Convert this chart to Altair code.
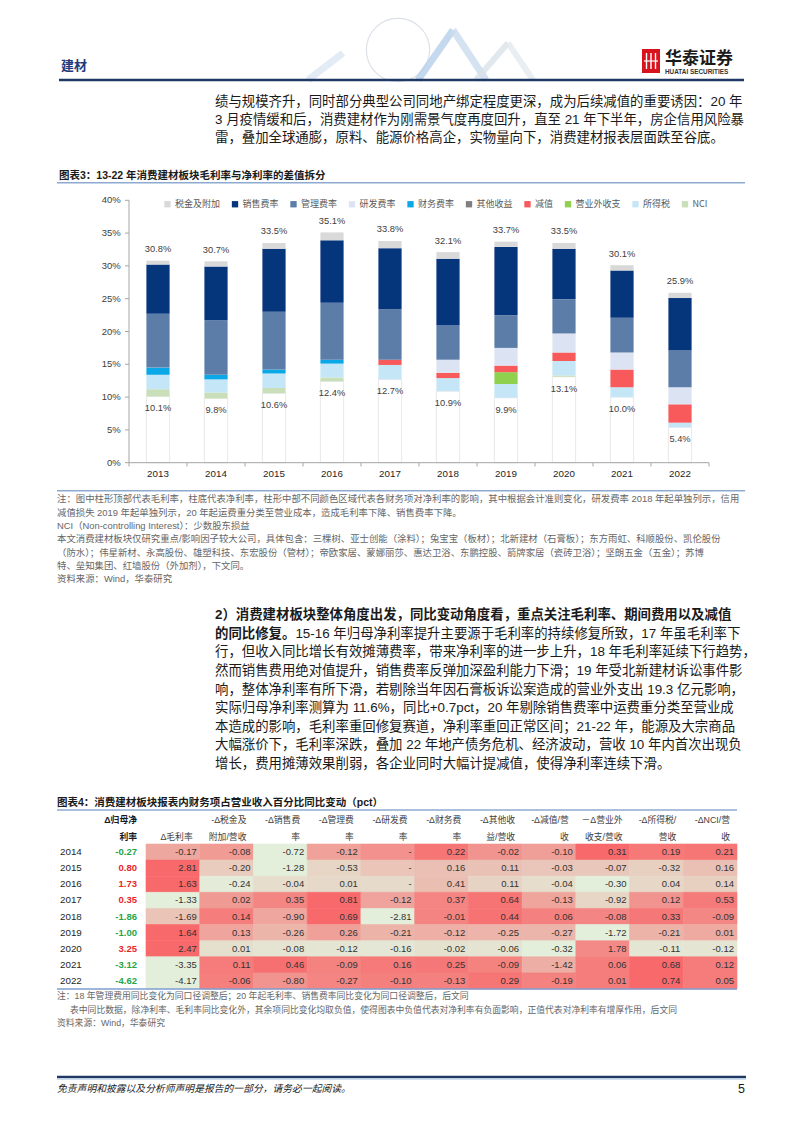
import altair as alt
import pandas as pd

# ---------------- data: chart 3 (stacked bars) ----------------
years = ['2013', '2014', '2015', '2016', '2017', '2018', '2019', '2020', '2021', '2022']
gross = [30.8, 30.7, 33.5, 35.1, 33.8, 32.1, 33.7, 33.5, 30.1, 25.9]
net = [10.1, 9.8, 10.6, 12.4, 12.7, 10.9, 9.9, 13.1, 10.0, 5.4]

seg_names = ['税金及附加', '销售费率', '管理费率', '研发费率', '财务费率',
             '其他收益', '减值', '营业外收支', '所得税', 'NCI']
seg_colors = ['#D9D9D9', '#05357A', '#5B7DA8', '#DCE3F2', '#0BA8E8',
              '#808080', '#F8595B', '#8FD14F', '#C4E6F7', '#C9DFB9']

tax = [0.6, 0.8, 0.9, 1.2, 1.1, 1.0, 0.8, 0.9, 0.8, 0.8]
sales = [7.5, 8.2, 9.6, 9.5, 9.3, 10.1, 10.4, 7.7, 7.2, 8.0]
admin = [8.2, 8.3, 8.8, 8.7, 7.7, 5.3, 5.0, 5.2, 5.3, 5.6]
rd = [0, 0, 0, 0, 0, 2.0, 2.7, 2.9, 2.6, 2.6]
fin = [1.1, 0.7, 0.6, 0.6, 0, 0, 0, 0, 0, 0]
other = [0, 0, 0, 0, 0, 0, 0, 0, 0, 0]
impair = [0, 0, 0, 0, 0.8, 0.8, 1.0, 1.3, 2.7, 2.8]
nonop = [0, 0, 0, 0, 0, 0, 1.8, 0, 0, 0]
itax = [2.2, 2.0, 2.2, 2.1, 2.2, 2.0, 2.1, 2.2, 1.5, 0.7]
nci = [1.1, 0.9, 0.8, 0.6, 0, 0, 0, 0.2, 0, 0]

y_ticks = [0, 5, 10, 15, 20, 25, 30, 35, 40]

# ---------------- data: chart 4 (table) ----------------
t_years = ['2014', '2015', '2016', '2017', '2018', '2019', '2020', '2021', '2022']
d_net = [-0.27, 0.80, 1.73, 0.35, -1.86, -1.00, 3.25, -3.12, -4.62]
d_gross = [-0.17, 2.81, 1.63, -1.33, -1.69, 1.64, 2.47, -3.35, -4.17]
d_tax = [-0.08, -0.20, -0.24, 0.02, 0.14, 0.13, 0.01, 0.11, -0.06]
d_sales = [-0.72, -1.28, -0.04, 0.35, -0.90, -0.26, -0.08, 0.46, -0.80]
d_admin = [-0.12, -0.53, 0.01, 0.81, 0.69, 0.26, -0.12, -0.09, -0.27]
d_rd = [0, 0, 0, -0.12, -2.81, -0.21, -0.16, 0.16, -0.10]
d_fin = [0.22, 0.16, 0.41, 0.37, -0.01, -0.12, -0.02, 0.25, -0.13]
d_other = [-0.02, 0.11, 0.11, 0.64, 0.44, -0.25, -0.06, -0.09, 0.29]
d_impair = [-0.10, -0.03, -0.04, -0.13, 0.06, -0.27, -0.32, -1.42, -0.19]
d_nonop = [0.31, -0.07, -0.30, -0.92, -0.08, -1.72, 1.78, 0.06, 0.01]
d_itax = [0.19, -0.32, 0.04, 0.12, 0.33, -0.21, -0.11, 0.68, 0.74]
d_nci = [0.21, 0.16, 0.14, 0.53, -0.09, 0.01, -0.12, 0.12, 0.05]

t_cols = ['毛利率', '税金', '销售', '管理', '研发', '财务', '其他', '减值', '营业外', '所得税', 'NCI']
head1 = ['', '-Δ税金及', '-Δ销售费', '-Δ管理费', '-Δ研发费', '-Δ财务费',
         '-Δ其他收', '-Δ减值/营', '－Δ营业外', '-Δ所得税/', '-ΔNCI/营']
head2 = ['Δ毛利率', '附加/营收', '率', '率', '率', '率', '益/营收', '收', '收支/营收', '营收', '收']

# ---------------- texts ----------------
para1 = [
    '绩与规模齐升，同时部分典型公司同地产绑定程度更深，成为后续减值的重要诱因：20 年',
    '3 月疫情缓和后，消费建材作为刚需景气度再度回升，直至 21 年下半年，房企信用风险暴',
    '雷，叠加全球通膨，原料、能源价格高企，实物量向下，消费建材报表层面跌至谷底。',
]
title3 = '图表3：13-22 年消费建材板块毛利率与净利率的差值拆分'
notes3 = [
    '注：图中柱形顶部代表毛利率，柱底代表净利率，柱形中部不同颜色区域代表各财务项对净利率的影响，其中根据会计准则变化，研发费率 2018 年起单独列示，信用',
    '减值损失 2019 年起单独列示，20 年起运费重分类至营业成本，造成毛利率下降、销售费率下降。',
    'NCI（Non-controlling Interest）：少数股东损益',
    '本文消费建材板块仅研究重点/影响因子较大公司，具体包含：三棵树、亚士创能（涂料）；兔宝宝（板材）；北新建材（石膏板）；东方雨虹、科顺股份、凯伦股份',
    '（防水）；伟星新材、永高股份、雄塑科技、东宏股份（管材）；帝欧家居、蒙娜丽莎、惠达卫浴、东鹏控股、箭牌家居（瓷砖卫浴）；坚朗五金（五金）；苏博',
    '特、垒知集团、红墙股份（外加剂），下文同。',
    '资料来源：Wind，华泰研究',
]
para2_bold = ['2）消费建材板块整体角度出发，同比变动角度看，重点关注毛利率、期间费用以及减值', '的同比修复。']
para2_rest = '15-16 年归母净利率提升主要源于毛利率的持续修复所致，17 年虽毛利率下'
para2 = [
    '行，但收入同比增长有效摊薄费率，带来净利率的进一步上升，18 年毛利率延续下行趋势，',
    '然而销售费用绝对值提升，销售费率反弹加深盈利能力下滑；19 年受北新建材诉讼事件影',
    '响，整体净利率有所下滑，若剔除当年因石膏板诉讼案造成的营业外支出 19.3 亿元影响，',
    '实际归母净利率测算为 11.6%，同比+0.7pct，20 年剔除销售费率中运费重分类至营业成',
    '本造成的影响，毛利率重回修复赛道，净利率重回正常区间；21-22 年，能源及大宗商品',
    '大幅涨价下，毛利率深跌，叠加 22 年地产债务危机、经济波动，营收 10 年内首次出现负',
    '增长，费用摊薄效果削弱，各企业同时大幅计提减值，使得净利率连续下滑。',
]
title4 = '图表4：消费建材板块报表内财务项占营业收入百分比同比变动（pct）'
notes4 = [
    '注：18 年管理费用同比变化为同口径调整后；20 年起毛利率、销售费率同比变化为同口径调整后，后文同',
    '表中同比数据，除净利率、毛利率同比变化外，其余项同比变化均取负值，使得图表中负值代表对净利率有负面影响，正值代表对净利率有增厚作用，后文同',
    '资料来源：Wind，华泰研究',
]
footer = '免责声明和披露以及分析师声明是报告的一部分，请务必一起阅读。'

CJK = 'Noto Sans CJK SC'
TXT = 'Liberation Sans, Noto Sans CJK SC'
NUM = 'Liberation Sans'
DUMMY = pd.DataFrame({'d': [0]})
LINE_BLUE = '#8EAAD0'


def rule(x, x2, y, color, w, y2=None, opacity=1.0, cap='butt'):
    enc = dict(x=alt.value(x), x2=alt.value(x2), y=alt.value(y))
    if y2 is not None:
        enc['y2'] = alt.value(y2)
    return alt.Chart(DUMMY).mark_rule(color=color, strokeWidth=w, opacity=opacity,
                                      strokeCap=cap).encode(**enc)


def lines_layer(items, n, x, y0, y1, size, weight='normal', color='#222', font=TXT,
                italic=False, align='left'):
    df = pd.DataFrame(items, columns=['i', 't'])
    dom_hi = max(n - 1, 1)
    rng_hi = y1 if n > 1 else y0 + 1
    kw = dict(align=align, baseline='middle', fontSize=size, font=font,
              fontWeight=weight, color=color)
    if italic:
        kw['fontStyle'] = 'italic'
    return alt.Chart(df).mark_text(**kw).encode(
        x=alt.value(x),
        y=alt.Y('i:Q', scale=alt.Scale(domain=[0, dom_hi], range=[y0, rng_hi]), axis=None),
        text='t:N')


layers = []

# ---------------- page header ----------------
layers.append(alt.Chart(DUMMY).mark_point(shape='circle', filled=False, size=4000,
                                          color='#D5DCE4', strokeWidth=1.2, opacity=0.8)
              .encode(x=alt.value(390), y=alt.value(42)))
layers.append(rule(300, 335, 72, '#DCE6F1', 7, y2=45, opacity=0.8))
layers.append(rule(410, 445, 72, '#B7D0EA', 7, y2=22, opacity=0.8))
layers.append(rule(445, 478, 22, '#C9DBEE', 7, y2=72, opacity=0.8))
layers.append(rule(468, 500, 72, '#D9E2EA', 6, y2=35, opacity=0.8))
layers.append(rule(500, 525, 35, '#E4EAF0', 6, y2=72, opacity=0.8))
layers.append(lines_layer([(0, '建材')], 1, 53, 58, 58, 13, weight='bold', color='#1F3A7A', font=CJK))
layers.append(alt.Chart(DUMMY).mark_rect(color='#D7141D').encode(
    x=alt.value(634), x2=alt.value(652), y=alt.value(41), y2=alt.value(65)))
for xx in (638.5, 643, 647.5):
    layers.append(rule(xx, xx, 45, 'white', 1.4, y2=61))
layers.append(rule(636, 650, 53, 'white', 1.2))
layers.append(lines_layer([(0, '华泰证券')], 1, 657, 51, 51, 17, weight='bold', color='#1A1A1A', font=CJK))
layers.append(lines_layer([(0, 'HUATAI SECURITIES')], 1, 657, 63.5, 63.5, 6.4, weight='bold',
                          color='#333333', font=NUM))
layers.append(rule(51, 736, 72, '#1F3864', 2.5))

# ---------------- paragraph 1 ----------------
layers.append(lines_layer(list(enumerate(para1)), 3, 207, 93.7, 130.3, 13.4, color='#1A1A1A'))

# ---------------- chart 3 title ----------------
layers.append(lines_layer([(0, title3)], 1, 51, 167.7, 167.7, 10.5, weight='bold', color='#1A1A1A'))
layers.append(rule(49, 737, 174.7, LINE_BLUE, 1.4))

# ---------------- chart 3: stacked bars ----------------
seg_map = dict(zip(seg_names, [tax, sales, admin, rd, fin, other, impair, nonop, itax, nci]))
stack_bottom_up = seg_names[::-1]
seg_rows = []
for k, yr in enumerate(years):
    base = net[k]
    for name in stack_bottom_up:
        h = seg_map[name][k]
        if h > 0:
            seg_rows.append(dict(year=yr, cat=name, y0=base, y1=base + h))
            base += h
seg_df = pd.DataFrame(seg_rows)
bar_df = pd.DataFrame({'year': years, 'gross': gross, 'net': net,
                       'gl': [f'{v:.1f}%' for v in gross],
                       'nl': [f'{v:.1f}%' for v in net]})

XB = alt.Scale(domain=years, range=[121, 701], paddingInner=0.6, paddingOuter=0.3)
# band boundaries: one band per year plus the closing edge, shifted by half a step
XTICK = alt.Scale(domain=years + ['end'], range=[92, 730], paddingInner=0, paddingOuter=0)
YB = alt.Scale(domain=[0, 40], range=[454.7, 192.3])

layers.append(alt.Chart(bar_df).mark_bar(fill='white', stroke='#E2E2E2', strokeWidth=0.8).encode(
    x=alt.X('year:N', scale=XB, axis=None),
    y=alt.Y('net:Q', scale=YB, axis=None)))

layers.append(alt.Chart(seg_df).mark_bar().encode(
    x=alt.X('year:N', scale=XB, axis=None),
    y=alt.Y('y0:Q', scale=YB, axis=None),
    y2='y1:Q',
    color=alt.Color('cat:N', scale=alt.Scale(domain=seg_names, range=seg_colors),
                    legend=alt.Legend(orient='none', legendX=155, legendY=191.5,
                                      direction='horizontal', columns=10, title=None,
                                      symbolType='square', symbolSize=40, symbolStrokeWidth=0,
                                      labelFont=CJK, labelFontSize=9, labelColor='#595959',
                                      labelOffset=3, columnPadding=9.5, padding=0,
                                      labelLimit=200))))

layers.append(alt.Chart(bar_df).mark_text(fontSize=9.3, font=NUM, color='#404040',
                                          baseline='middle', dy=-11.5).encode(
    x=alt.X('year:N', scale=XB, axis=None),
    y=alt.Y('gross:Q', scale=YB, axis=None),
    text='gl:N'))
layers.append(alt.Chart(bar_df).mark_text(fontSize=9.3, font=NUM, color='#404040',
                                          baseline='middle', dy=12).encode(
    x=alt.X('year:N', scale=XB, axis=None),
    y=alt.Y('net:Q', scale=YB, axis=None),
    text='nl:N'))

# axes drawn through the same scales
tick_df = pd.DataFrame({'v': y_ticks, 'lab': [f'{v}%' for v in y_ticks]})
axis_df = pd.DataFrame({'a': [0], 'b': [40]})
layers.append(alt.Chart(axis_df).mark_rule(color='#A6A6A6', strokeWidth=1).encode(
    x=alt.value(121), y=alt.Y('a:Q', scale=YB, axis=None), y2='b:Q'))
layers.append(alt.Chart(tick_df).mark_rule(color='#A6A6A6', strokeWidth=1).encode(
    x=alt.value(117), x2=alt.value(121), y=alt.Y('v:Q', scale=YB, axis=None)))
layers.append(alt.Chart(tick_df).mark_text(align='right', baseline='middle', fontSize=9.5,
                                           font=NUM, color='#404040').encode(
    x=alt.value(112.7), y=alt.Y('v:Q', scale=YB, axis=None), text='lab:N'))
layers.append(alt.Chart(axis_df).mark_rule(color='#A6A6A6', strokeWidth=1).encode(
    x=alt.value(121), x2=alt.value(701), y=alt.Y('a:Q', scale=YB, axis=None)))
edge_df = pd.DataFrame({'edge': years + ['end']})
layers.append(alt.Chart(edge_df).mark_rule(color='#A6A6A6', strokeWidth=1).encode(
    x=alt.X('edge:N', scale=XTICK, axis=None),
    y=alt.value(454.7), y2=alt.value(458.5)))
yr_df = pd.DataFrame({'year': years})
layers.append(alt.Chart(yr_df).mark_text(baseline='middle', fontSize=9.8, font=NUM,
                                         color='#262626').encode(
    x=alt.X('year:N', scale=XB, axis=None), y=alt.value(466), text='year:N'))

# ---------------- chart 3 notes ----------------
layers.append(rule(49, 737, 482.7, LINE_BLUE, 1.4))
layers.append(lines_layer(list(enumerate(notes3)), 7, 49, 491.3, 571.3, 9.4, color='#666666'))

# ---------------- paragraph 2 ----------------
layers.append(lines_layer(list(enumerate(para2_bold)), 9, 207, 607, 756, 13.4,
                          weight='bold', color='#1A1A1A'))
layers.append(lines_layer([(1, para2_rest)], 9, 287.4, 607, 756, 13.4, color='#1A1A1A'))
layers.append(lines_layer([(i + 2, t) for i, t in enumerate(para2)], 9, 207, 607, 756, 13.4,
                          color='#1A1A1A'))

# ---------------- chart 4: table ----------------
layers.append(lines_layer([(0, title4)], 1, 49, 795.3, 795.3, 10.5, weight='bold', color='#1A1A1A'))
layers.append(rule(49, 729, 802, LINE_BLUE, 1.3))

col_vals = [d_gross, d_tax, d_sales, d_admin, d_rd, d_fin, d_other, d_impair, d_nonop, d_itax, d_nci]
cell_rows = []
for r, yr in enumerate(t_years):
    row = [c[r] for c in col_vals]
    lo, hi = min(row), max(row)
    for ci, col in enumerate(t_cols):
        v = row[ci]
        lab = '-' if (col == '研发' and v == 0) else f'{v:.2f}'
        cell_rows.append(dict(year=yr, col=col, v=v, t=(v - lo) / (hi - lo), lab=lab))
cell_df = pd.DataFrame(cell_rows)

XT = alt.Scale(domain=t_cols, range=[138, 729], paddingInner=0, paddingOuter=0)
HALF = (729 - 138) / len(t_cols) / 2
YT = alt.Scale(domain=t_years, range=[836, 981], paddingInner=0, paddingOuter=0)
CT = alt.Scale(domain=[0, 1], range=['#E3EFDB', '#F8696B'], interpolate='rgb')

layers.append(alt.Chart(cell_df).mark_rect(strokeWidth=0.6).encode(
    x=alt.X('col:N', scale=XT, axis=None),
    y=alt.Y('year:N', scale=YT, axis=None),
    color=alt.Color('t:Q', scale=CT, legend=None),
    stroke=alt.Stroke('t:Q', scale=CT, legend=None)))
layers.append(alt.Chart(cell_df).mark_text(align='right', baseline='middle', fontSize=9.5,
                                           font=NUM, color='#333333', dx=HALF - 3).encode(
    x=alt.X('col:N', scale=XT, axis=None),
    y=alt.Y('year:N', scale=YT, axis=None),
    text='lab:N'))

net_df = pd.DataFrame({'year': t_years, 'v': d_net,
                       'lab': [f'{v:.2f}' for v in d_net],
                       'sign': ['neg' if v < 0 else 'pos' for v in d_net]})
layers.append(alt.Chart(net_df).mark_text(align='right', baseline='middle', fontSize=9.5,
                                          font=NUM, fontWeight='bold').encode(
    x=alt.value(129),
    y=alt.Y('year:N', scale=YT, axis=None),
    color=alt.Color('sign:N', scale=alt.Scale(domain=['neg', 'pos'], range=['#1FA64A', '#E8262A']),
                    legend=None),
    text='lab:N'))
layers.append(alt.Chart(net_df).mark_text(align='left', baseline='middle', fontSize=9.8,
                                          font=NUM, color='#262626').encode(
    x=alt.value(52), y=alt.Y('year:N', scale=YT, axis=None), text='year:N'))

hdr_df = pd.DataFrame({'col': t_cols, 'h1': head1, 'h2': head2})
layers.append(alt.Chart(hdr_df).mark_text(align='right', baseline='middle', fontSize=8.8,
                                          font=TXT, color='#404040', dx=HALF - 7).encode(
    x=alt.X('col:N', scale=XT, axis=None), y=alt.value(812), text='h1:N'))
layers.append(alt.Chart(hdr_df).mark_text(align='right', baseline='middle', fontSize=8.8,
                                          font=TXT, color='#404040', dx=HALF - 7).encode(
    x=alt.X('col:N', scale=XT, axis=None), y=alt.value(829), text='h2:N'))
layers.append(lines_layer([(0, 'Δ归母净'), (1, '利率')], 2, 129, 812, 829, 8.8,
                          weight='bold', color='#1A1A1A', align='right'))
layers.append(rule(49, 729, 981, '#7F9ED0', 1.6))

# ---------------- chart 4 notes ----------------
layers.append(lines_layer([(0, notes4[0]), (2, notes4[2])], 3, 49, 988, 1015, 8.8, color='#666666'))
layers.append(lines_layer([(1, notes4[1])], 3, 62, 988, 1015, 8.8, color='#666666'))

# ---------------- footer ----------------
layers.append(rule(49, 738, 1069, '#1F3864', 2.5))
layers.append(rule(49, 738, 1071.3, '#BDD7EE', 1))
layers.append(lines_layer([(0, footer)], 1, 49, 1081, 1081, 9.8, color='#1A1A1A', italic=True, font=CJK))
layers.append(lines_layer([(0, '5')], 1, 737, 1081, 1081, 12.5, color='#1A1A1A', font=NUM, align='right'))

chart = alt.layer(*layers).resolve_scale(
    x='independent', y='independent', color='independent', stroke='independent'
).properties(
    width=786, height=1108, padding=0, autosize=alt.AutoSizeParams(type='none')
).configure_view(strokeWidth=0)

chart.save('out.html', embed_options={'renderer': 'svg', 'actions': False})
